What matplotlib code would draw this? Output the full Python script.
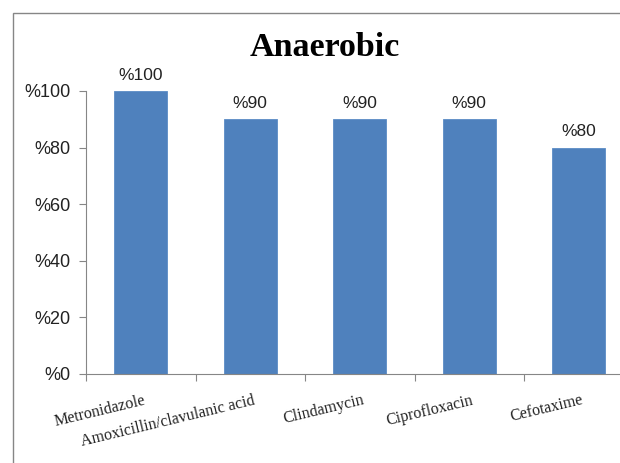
import numpy as np
import matplotlib
matplotlib.use('Agg')
import matplotlib.pyplot as plt
from matplotlib.patches import Rectangle

drugs = ['Metronidazole', 'Amoxicillin/clavulanic acid', 'Clindamycin',
         'Ciprofloxacin', 'Cefotaxime']
sensitivity = [100, 90, 90, 90, 80]
y_ticks = [0, 20, 40, 60, 80, 100]

bar_color = '#4F81BD'
axis_color = '#868686'

fig = plt.figure(figsize=(6.2, 4.63), dpi=100)

# chart area frame, clipped on the right and bottom like an exported Excel chart
fig.patches.append(Rectangle((13 / 620, -0.1), 1.2, 1.1 - 13 / 463,
                             transform=fig.transFigure, fill=False,
                             edgecolor=axis_color, linewidth=1.0))

ax = fig.add_axes([86 / 620, 89 / 463, 547.5 / 620, 283 / 463])
ax.set_clip_on(False)

x = np.arange(len(drugs))
ax.bar(x, sensitivity, width=0.48, color=bar_color, edgecolor='#5b8cc6',
       linewidth=0.6, zorder=2)

for xi, v in zip(x, sensitivity):
    ax.text(xi, v + 3, '%' + str(v), ha='center', va='bottom',
            fontsize=12.5, family='Liberation Sans', color='#222222')

ax.set_xlim(-0.5, len(drugs) - 0.5)
ax.set_ylim(0, 100)

ax.set_yticks(y_ticks)
ax.set_yticklabels(['%' + str(t) for t in y_ticks], family='Liberation Sans',
                   fontsize=13, color='#222222')
ax.set_xticks(np.arange(len(drugs) + 1) - 0.5)
ax.set_xticklabels([])
ax.tick_params(axis='y', length=5, width=0.8, color=axis_color, pad=6)
ax.tick_params(axis='x', length=5, width=0.8, color=axis_color)

for xi, name in zip(x, drugs):
    ax.text(xi + 0.02, -6.5, name, rotation=13.5, rotation_mode='anchor',
            ha='right', va='top', fontsize=11.5, family='Liberation Serif',
            color='#222222')

for side in ['top', 'right']:
    ax.spines[side].set_visible(False)
for side in ['left', 'bottom']:
    ax.spines[side].set_color(axis_color)
    ax.spines[side].set_linewidth(0.8)

fig.text(325 / 620, 1 - 48 / 463, 'Anaerobic', ha='center', va='center',
         fontsize=24.5, fontweight='bold', family='Liberation Serif')

fig.savefig('out.png', dpi=100)
